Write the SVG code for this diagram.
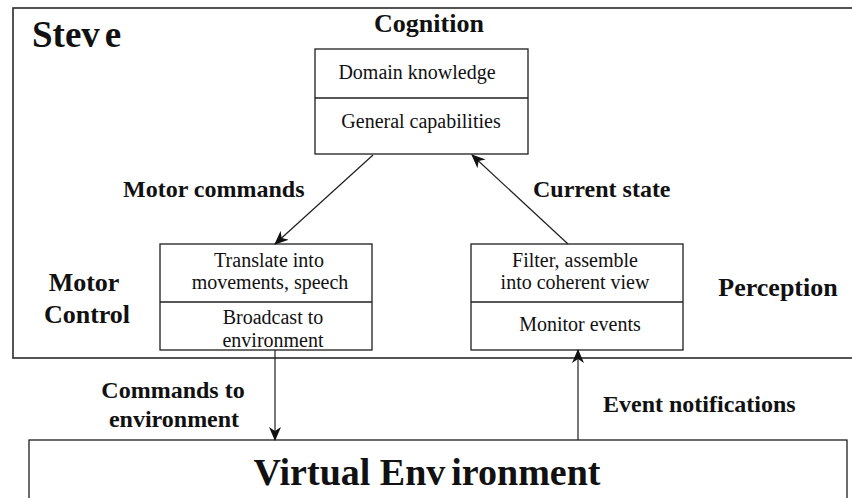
<svg xmlns="http://www.w3.org/2000/svg" width="852" height="498" viewBox="0 0 852 498">
  <style>
    .frame { fill: none; stroke: #2a2a2a; stroke-width: 1.6; }
    .box { fill: #ffffff; stroke: #1e1e1e; stroke-width: 1.3; }
    .div { stroke: #1e1e1e; stroke-width: 1.3; }
    .wire { stroke: #1e1e1e; stroke-width: 1.2; fill: none; marker-end: url(#head); }
    .t { font-family: "Liberation Serif", "Times New Roman", serif; fill: #111; }
    .body { font-size: 20px; text-anchor: middle; }
    .label { font-size: 24px; font-weight: bold; }
    .title { font-size: 26px; font-weight: bold; text-anchor: middle; }
  </style>
  <defs>
    <marker id="head" viewBox="0 0 14 12" refX="13" refY="6" markerWidth="14" markerHeight="12" markerUnits="userSpaceOnUse" orient="auto">
      <path d="M0,0 L14,6 L0,12 L4,6 Z" fill="#111"/>
    </marker>
  </defs>

  <rect width="852" height="498" fill="#ffffff"/>

  <!-- outer agent frame -->
  <g id="steve">
    <rect class="frame" x="13" y="8" width="850" height="350"/>
    <text class="t" x="32" y="47" font-size="37" font-weight="bold">Stev<tspan dx="5">e</tspan></text>
  </g>

  <g id="cognition">
    <text class="t title" x="429" y="32">Cognition</text>
    <rect class="box" x="315" y="49" width="213" height="105"/>
    <line class="div" x1="315" y1="98" x2="528" y2="98"/>
    <text class="t body" x="417" y="79">Domain knowledge</text>
    <text class="t body" x="421" y="128">General capabilities</text>
  </g>

  <g id="motor-control">
    <text class="t title" x="84" y="291">Motor</text>
    <text class="t title" x="87" y="323">Control</text>
    <rect class="box" x="160" y="244" width="212" height="106"/>
    <line class="div" x1="160" y1="302" x2="372" y2="302"/>
    <text class="t body" x="269" y="267">Translate into</text>
    <text class="t body" x="270" y="289">movements, speech</text>
    <text class="t body" x="273" y="324">Broadcast to</text>
    <text class="t body" x="273" y="347">environment</text>
  </g>

  <g id="perception">
    <text class="t title" x="778" y="296">Perception</text>
    <rect class="box" x="471" y="244" width="212" height="106"/>
    <line class="div" x1="471" y1="302" x2="683" y2="302"/>
    <text class="t body" x="575" y="267">Filter, assemble</text>
    <text class="t body" x="575" y="289">into coherent view</text>
    <text class="t body" x="580" y="331">Monitor events</text>
  </g>

  <g id="virtual-environment">
    <rect class="box" x="29" y="440" width="818" height="80"/>
    <text class="t" x="427" y="485" font-size="38" font-weight="bold" text-anchor="middle">Virtual Env<tspan dx="6">ironment</tspan></text>
  </g>

  <!-- connectors -->
  <g id="connectors">
    <line class="wire" x1="373" y1="155" x2="275" y2="244"/>
    <line class="wire" x1="568" y1="244" x2="472" y2="155"/>
    <line class="wire" x1="275" y1="350" x2="275" y2="440"/>
    <line class="wire" x1="578" y1="440" x2="578" y2="350"/>
    <text class="t label" x="123" y="197">Motor commands</text>
    <text class="t label" x="533" y="197">Current state</text>
    <text class="t label" x="173" y="398" text-anchor="middle">Commands to</text>
    <text class="t label" x="174" y="427" text-anchor="middle">environment</text>
    <text class="t label" x="603" y="412">Event notifications</text>
  </g>
</svg>
